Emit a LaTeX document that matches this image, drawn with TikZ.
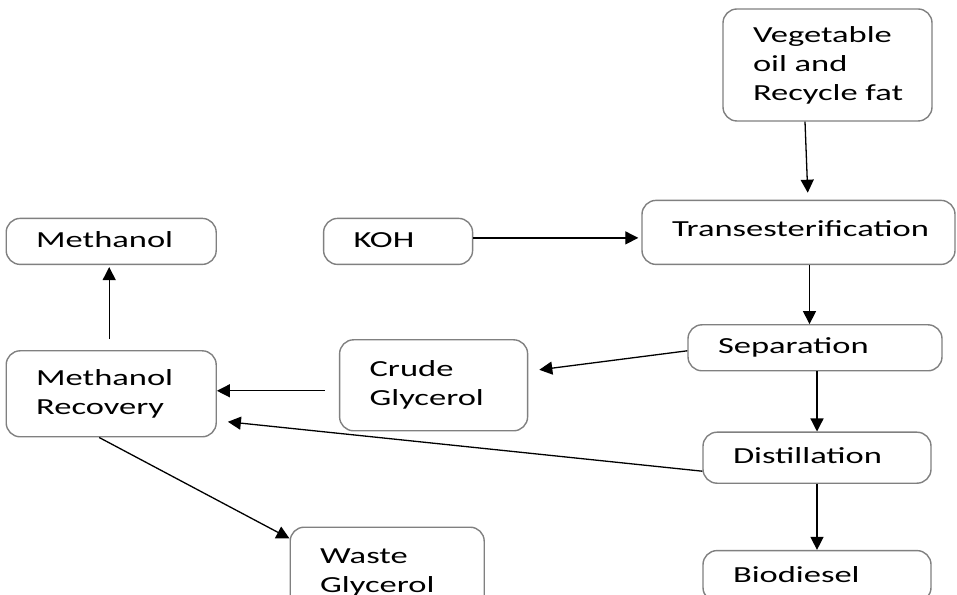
\documentclass[tikz,border=0pt]{standalone}
\usepackage{fontspec}
\setmainfont{Carlito}[FakeStretch=1.5]
\usetikzlibrary{arrows.meta,positioning,calc}
\tikzset{
    flowbox/.style={draw=black!50, line width=1.4pt, rounded corners=14pt, align=left,
        font=\fontsize{23}{29}\selectfont, inner xsep=30pt, inner ysep=0pt},
    onelinebox/.style={flowbox, text height=17pt, text depth=5pt},
    flowarrow/.style={-{Triangle[length=13pt, width=13pt]}, line width=1.3pt}
}

\begin{document}
\begin{tikzpicture}
\useasboundingbox (0pt,0pt) rectangle (957pt,594pt);
% right column
\node[flowbox, text width=149pt, minimum height=112pt] (veg) at (827.5pt,529pt) {Vegetable\\oil and\\Recycle~fat};
\node[onelinebox, text width=253pt, minimum height=64pt, below=78pt of veg, xshift=-29pt, text depth=9pt] (trans) {Transesterification};
\node[onelinebox, text width=194pt, minimum height=46pt, below=59pt of trans, xshift=16.5pt] (sep) {Separation};
\node[onelinebox, text width=168pt, minimum height=51pt, below=60pt of sep, xshift=2pt] (dist) {Distillation};
\node[onelinebox, text width=168pt, minimum height=51pt, below=66pt of dist] (bio) {Biodiesel};
% left side
\node[onelinebox, text width=89pt, minimum height=46pt, left=168pt of trans, yshift=-9pt] (koh) {KOH};
\node[onelinebox, text width=150pt, minimum height=46pt, left=106pt of koh] (meth) {Methanol};
\node[flowbox, text width=150pt, minimum height=86pt, below=85pt of meth] (mrec) {Methanol\\Recovery};
\node[flowbox, text width=128pt, minimum height=91pt, right=122pt of mrec, yshift=8.5pt] (crude) {Crude\\Glycerol};
\node[flowbox, text width=134pt, minimum height=91pt, below=89pt of mrec, xshift=276pt] (waste) {Waste\\Glycerol};
% connectors
\draw[flowarrow, shorten >=7pt] ([xshift=-22.5pt]veg.south) -- ([xshift=9.5pt]trans.north);
\draw[flowarrow, shorten >=3pt] ([yshift=3.5pt]koh.east) -- ([yshift=3.5pt]koh.east -| trans.west);
\draw[flowarrow] ([xshift=11pt]trans.south) -- ([xshift=11pt]trans.south |- sep.north);
\draw[flowarrow] ([yshift=-3pt]sep.west) -- ($(crude.east)+(11pt,15.5pt)$);
\draw[flowarrow] (dist.north |- sep.south) -- (dist.north);
\draw[flowarrow] (dist.south) -- (bio.north);
\draw[flowarrow] ([xshift=-14pt,yshift=-5.5pt]crude.west) -- ([yshift=3pt]mrec.east);
\draw[flowarrow] ([yshift=-13.5pt]dist.west) -- ([xshift=11pt,yshift=-28pt]mrec.east);
\draw[flowarrow, shorten >=2pt] ([xshift=-2pt,yshift=11pt]mrec.north) -- ([xshift=-2pt]meth.south);
\draw[flowarrow] ([xshift=-12pt]mrec.south) -- ([yshift=-12pt]waste.north west);
\end{tikzpicture}
\end{document}
